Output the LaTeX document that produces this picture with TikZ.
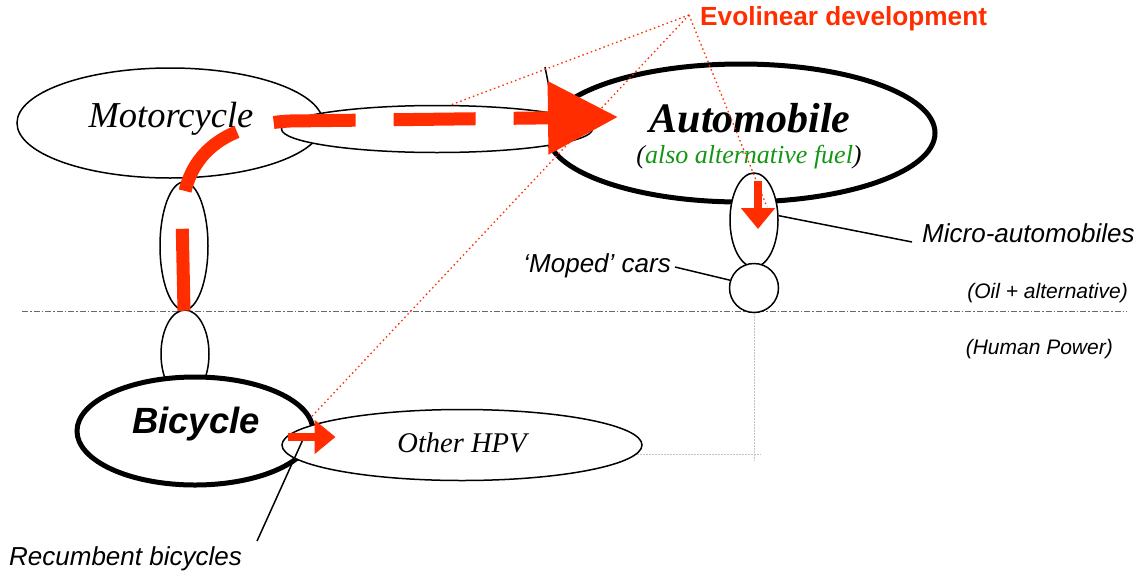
\documentclass[tikz,border=0pt]{standalone}
\usepackage{fontspec}
\setmainfont{Liberation Serif}
\setsansfont{Liberation Sans}
\usetikzlibrary{shapes.geometric,arrows.meta,calc}

\definecolor{evored}{RGB}{255,45,0}
\definecolor{fuelgreen}{RGB}{20,150,20}
\definecolor{splitgray}{RGB}{105,105,105}
\definecolor{guidegray}{RGB}{195,195,195}

\tikzset{
  blob/.style={ellipse, draw, fill=white, inner sep=0pt, line width=1.5pt},
  bigblob/.style={blob, line width=5pt},
  lbl/.style={font=\sffamily\itshape\fontsize{26}{30}\selectfont, inner sep=0pt},
  zone/.style={font=\sffamily\itshape\fontsize{21}{25}\selectfont, inner sep=0pt},
  lead/.style={line width=1.5pt},
  evoline/.style={evored, line width=1.3pt, dash pattern=on 1.5pt off 3pt},
  guide/.style={guidegray, line width=1pt, dash pattern=on 2pt off 1pt},
  push/.style={evored, line width=8pt, -{Triangle[length=21pt,width=33pt]}},
}

\begin{document}
\begin{tikzpicture}[x=1pt,y=-1pt]
\useasboundingbox (0,0) rectangle (1139,573);

% oil / human power split
\draw[splitgray, line width=1pt, dash pattern=on 6pt off 2pt on 1.5pt off 2pt] (22,311) -- (1127,311);

% the families
\node[blob, minimum width=306pt, minimum height=110pt] (moto) at (170,123) {};
\node[bigblob, minimum width=388pt, minimum height=138pt] (auto) at (741,133) {};
\node[blob, minimum width=311pt, minimum height=47pt] (mid) at (437,129) {};
\node[blob, minimum width=48pt, minimum height=128pt] (link1) at (184,246) {};
\node[blob, minimum width=48pt, minimum height=88pt] (link2) at (185,354) {};
\node[bigblob, minimum width=236pt, minimum height=108pt] (bike) at (195,431) {};
\node[blob, minimum width=360pt, minimum height=71pt] (hpv) at (462,445) {};
\node[blob, minimum width=48pt, minimum height=94pt] (micro) at (754,220) {};
\node[blob, minimum width=49pt, minimum height=49pt] (moped) at (754,288) {};

\draw[guide] (moped.south) -- ++(0,148);
\draw[guide] (hpv.-3) -- ++(124,0);

% texts
\node[inner sep=0pt, anchor=base, font=\itshape\fontsize{36.5}{42}\selectfont] (mototxt) at (171,127) {Motorcycle};
\node[inner sep=0pt, anchor=base, font=\bfseries\itshape\fontsize{42}{48}\selectfont] (autotxt) at (750,132) {Automobile};
\node[inner sep=0pt, anchor=base, font=\itshape\fontsize{26}{30}\selectfont] (fueltxt) at (749,163) {(\textcolor{fuelgreen}{also alternative fuel})};
\node[inner sep=0pt, anchor=base, font=\sffamily\bfseries\itshape\fontsize{36.5}{42}\selectfont] (biketxt) at (196,433) {Bicycle};
\node[inner sep=0pt, anchor=base, font=\itshape\fontsize{28.5}{33}\selectfont] (hpvtxt) at (462,452) {Other HPV};
\node[inner sep=0pt, anchor=west, text=evored, font=\sffamily\bfseries\fontsize{26.2}{30}\selectfont] (evo) at (700,19) {Evolinear development};

\node[lbl, anchor=base west] (microlbl) at (922,242) {Micro-automobiles};
\node[lbl, anchor=base east] (mopedlbl) at (671,272) {`Moped' cars};
\node[lbl, anchor=base west] (recumb) at (9,565) {Recumbent bicycles};
\node[zone, anchor=east] (oil) at (1128,293) {(Oil + alternative)};
\node[zone, anchor=east] (human) at (1113,349) {(Human Power)};

% leaders
\draw[lead] (micro.10) -- ($(microlbl.base west)+(-10,0)$);
\draw[lead] ($(mopedlbl.base east)+(4,-5)$) -- (moped.162);
\draw[lead] ($(hpv.west)+(21,-4)$) -- ($(recumb.base east)+(15,-24)$);
\draw[lead] (545,67) -- (550,92);

% development arrows
\draw[evored, line width=13pt, dash pattern=on 82pt off 38pt, -{Triangle[length=70pt,width=70pt]}]
  (link1.south) -- (182,215) .. controls (184,150) and (230,124) .. (290,121) -- (618,117);
\draw[push] ($(bike.east)+(-28,6)$) -- ++(48,0);
\draw[push] ($(micro)+(4,-39)$) -- ($(micro)+(4,9)$);

\coordinate (fan) at (689,15);
\draw[evoline] (fan) -- (mid.60);
\draw[evoline] (fan) -- (bike.7);
\draw[evoline] (fan) -- ($(micro)+(13,-13)$);
\end{tikzpicture}
\end{document}
